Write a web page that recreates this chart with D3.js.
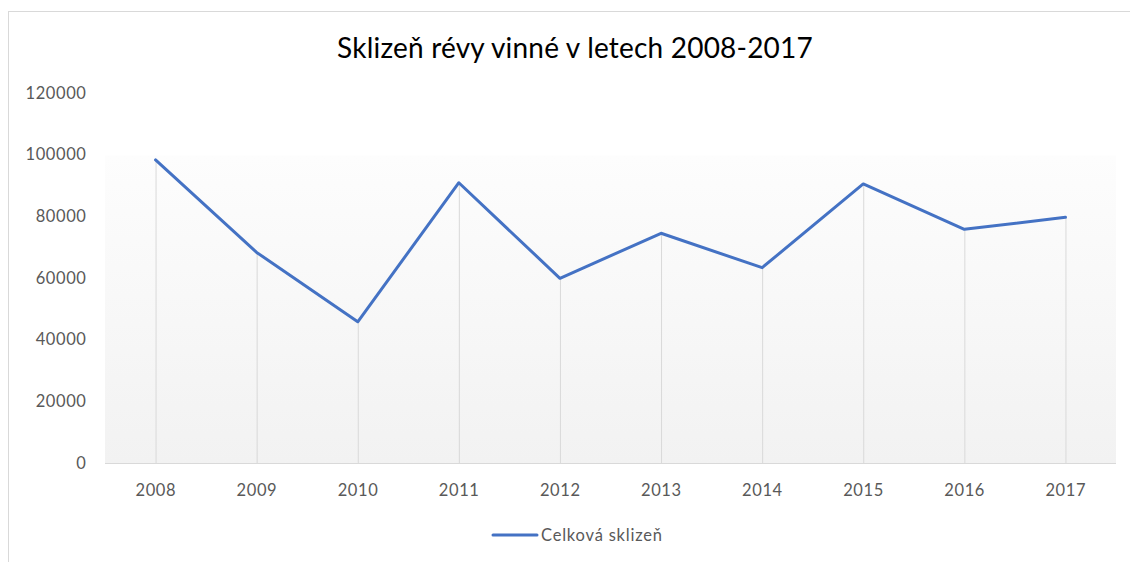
<!DOCTYPE html>
<html><head><meta charset="utf-8">
<script src="https://cdn.jsdelivr.net/npm/d3@7"></script>
<style>body{margin:0;background:#fff;}svg{display:block;}</style>
</head><body>
<svg id="c" width="1130" height="562"></svg>
<script>
const years = ["2008","2009","2010","2011","2012","2013","2014","2015","2016","2017"];
const harvest = [98300, 68300, 45800, 90900, 59900, 74500, 63350, 90500, 75800, 79700];
const yTicks = [0, 20000, 40000, 60000, 80000, 100000, 120000];
const title = "Sklizeň révy vinné v letech 2008-2017";
const seriesName = "Celková sklizeň";

const svg = d3.select("#c");
const font = "Lato, 'Open Sans', sans-serif";
const L = 105, R = 1116, T = 93, B = 463;

// chart frame
svg.append("rect").attr("x",8.5).attr("y",11.5).attr("width",1130).attr("height",600)
  .attr("fill","#fff").attr("stroke","#d9d9d9");

const x = d3.scalePoint().domain(years).range([L, R]).padding(0.5);
const y = d3.scaleLinear().domain([0, 120000]).range([B, T]);

// gradient plot background
const defs = svg.append("defs");
const g = defs.append("linearGradient").attr("id","bg").attr("x1",0).attr("y1",0).attr("x2",0).attr("y2",1);
g.append("stop").attr("offset","0%").attr("stop-color","#fdfdfd");
g.append("stop").attr("offset","100%").attr("stop-color","#f2f2f2");
svg.append("rect").attr("x",L).attr("y",y(100000)+1).attr("width",R-L).attr("height",B-y(100000)-1)
  .attr("fill","url(#bg)");

// title
svg.append("text").attr("x",575).attr("y",58).attr("text-anchor","middle")
  .attr("font-family",font).attr("font-size",28).attr("letter-spacing",0.2).attr("fill","#000").text(title);

// y axis labels
svg.append("g").selectAll("text").data(yTicks).join("text")
  .attr("x",86.5).attr("y",d=>y(d)).attr("dy","0.35em").attr("text-anchor","end")
  .attr("font-family",font).attr("font-size",16.5).attr("letter-spacing",0.6).attr("fill","#595959").text(d=>d);

// drop lines
svg.append("g").selectAll("line").data(years).join("line")
  .attr("x1",d=>x(d)+0.5).attr("x2",d=>x(d)+0.5)
  .attr("y1",(d,i)=>y(harvest[i])).attr("y2",B)
  .attr("stroke","#d9d9d9").attr("stroke-width",1);

// baseline
svg.append("line").attr("x1",L).attr("x2",R).attr("y1",B+0.5).attr("y2",B+0.5)
  .attr("stroke","#d9d9d9").attr("stroke-width",1);

// x labels
svg.append("g").selectAll("text").data(years).join("text")
  .attr("x",d=>x(d)+0.3).attr("y",490).attr("dy","0.35em").attr("text-anchor","middle")
  .attr("font-family",font).attr("font-size",16.5).attr("letter-spacing",0.6).attr("fill","#595959").text(d=>d);

// line
const line = d3.line().x((d,i)=>x(years[i])).y(d=>y(d));
svg.append("path").datum(harvest).attr("d",line).attr("fill","none")
  .attr("stroke","#4472c4").attr("stroke-width",3).attr("stroke-linejoin","round").attr("stroke-linecap","round");

// legend
svg.append("line").attr("x1",493).attr("x2",537).attr("y1",535).attr("y2",535)
  .attr("stroke","#4472c4").attr("stroke-width",3).attr("stroke-linecap","round");
svg.append("text").attr("x",541).attr("y",535).attr("dy","0.35em")
  .attr("font-family",font).attr("font-size",16.5).attr("letter-spacing",0.8).attr("fill","#595959").text(seriesName);
</script>
</body></html>
